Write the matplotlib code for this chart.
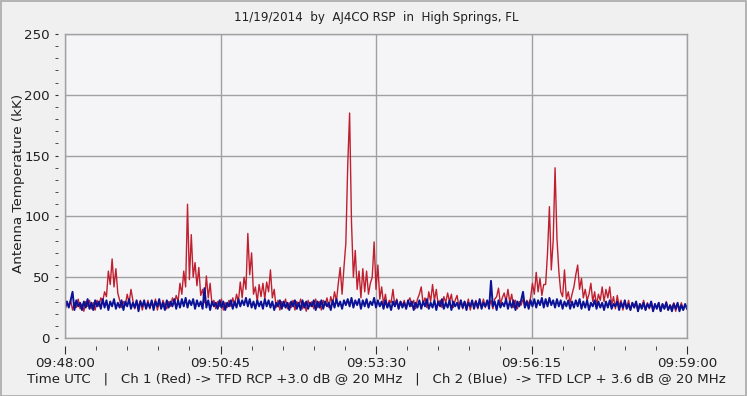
import numpy as np
import matplotlib.pyplot as plt
from matplotlib.patches import Rectangle

# seconds after 09:48:00 UTC, one sample every 2 s
t_sec = np.arange(0, 661, 2)

# Ch 1 (Red) antenna temperature, kK
ch1_red = [
    24, 30, 26, 31, 23, 29, 25, 32, 24, 28, 22, 30, 26, 31, 24,
    29, 23, 31, 26, 33, 30, 38, 34, 55, 44, 65, 42, 57, 37, 31,
    25, 30, 27, 36, 29, 40, 31, 24, 30, 26, 31, 23, 29, 25, 31,
    24, 30, 26, 32, 23, 29, 25, 31, 27, 24, 30, 26, 33, 28, 35,
    30, 45, 36, 55, 42, 110, 48, 85, 50, 62, 43, 58, 35, 40, 29,
    51, 33, 45, 27, 31, 24, 30, 26, 32, 23, 29, 25, 31, 26, 33,
    27, 36, 30, 46, 33, 50, 40, 86, 52, 70, 36, 42, 30, 44, 34,
    45, 32, 46, 38, 56, 33, 40, 25, 31, 23, 30, 26, 32, 24, 29,
    25, 31, 23, 30, 26, 32, 24, 29, 22, 31, 26, 30, 24, 32, 25,
    30, 23, 31, 27, 33, 25, 34, 28, 38, 30, 45, 58, 36, 58, 78,
    142, 185, 95, 50, 72, 40, 55, 33, 57, 38, 55, 36, 45, 50, 79,
    40, 60, 32, 42, 28, 36, 25, 31, 29, 40, 26, 32, 24, 30, 27,
    31, 24, 30, 33, 26, 31, 24, 32, 36, 42, 28, 33, 25, 38, 30,
    44, 31, 40, 27, 31, 25, 34, 29, 37, 30, 36, 25, 31, 35, 26,
    31, 24, 30, 26, 32, 23, 29, 27, 31, 24, 30, 26, 32, 25, 30,
    26, 31, 24, 32, 34, 41, 28, 33, 37, 30, 40, 29, 36, 25, 31,
    24, 30, 27, 32, 25, 31, 28, 33, 45, 36, 54, 38, 49, 35, 44,
    44, 70, 108, 56, 80, 140, 82, 55, 38, 34, 56, 32, 38, 29, 36,
    42, 52, 60, 40, 49, 33, 40, 31, 36, 45, 30, 38, 27, 36, 31,
    42, 30, 40, 33, 42, 27, 34, 24, 35, 26, 31, 23, 30, 25, 31,
    23, 29, 25, 30, 22, 28, 26, 31, 23, 29, 24, 30, 22, 28, 25,
    29, 22, 28, 24, 30, 23, 27, 25, 29, 22, 28, 24, 29, 23, 27,
    25,
]

# Ch 2 (Blue) antenna temperature, kK
ch2_blue = [
    24, 30, 25, 31, 38, 23, 31, 26, 29, 23, 30, 25, 32, 24, 29,
    23, 31, 26, 30, 24, 32, 25, 31, 23, 30, 26, 32, 24, 29, 25,
    31, 23, 30, 26, 32, 24, 29, 25, 31, 22, 30, 26, 31, 24, 29,
    25, 31, 23, 30, 26, 32, 24, 29, 23, 31, 25, 30, 26, 32, 24,
    31, 25, 32, 26, 33, 25, 31, 27, 32, 24, 31, 26, 30, 24, 41,
    25, 31, 23, 30, 26, 29, 24, 31, 25, 30, 23, 29, 26, 31, 24,
    30, 25, 32, 26, 31, 27, 33, 26, 32, 25, 30, 24, 31, 26, 30,
    24, 32, 26, 31, 25, 30, 23, 29, 26, 31, 24, 30, 25, 29, 23,
    30, 26, 31, 24, 29, 23, 31, 25, 30, 24, 29, 26, 31, 23, 30,
    25, 31, 24, 30, 26, 29, 23, 31, 25, 32, 26, 30, 24, 31, 27,
    32, 26, 33, 25, 31, 27, 32, 24, 31, 26, 32, 25, 30, 27, 33,
    25, 31, 26, 30, 24, 31, 25, 29, 23, 30, 26, 31, 24, 30, 25,
    29, 24, 31, 26, 30, 23, 29, 25, 31, 24, 30, 26, 32, 24, 29,
    25, 31, 23, 30, 26, 32, 24, 29, 25, 31, 23, 30, 26, 29, 24,
    31, 25, 30, 23, 29, 26, 31, 24, 30, 25, 32, 24, 29, 26, 31,
    24, 47, 26, 30, 23, 31, 25, 29, 26, 32, 24, 30, 25, 31, 23,
    30, 26, 31, 38, 25, 30, 24, 31, 26, 32, 25, 31, 27, 33, 25,
    32, 26, 33, 27, 31, 25, 32, 26, 31, 24, 30, 26, 31, 24, 30,
    25, 31, 26, 32, 24, 30, 25, 31, 23, 29, 26, 31, 24, 30, 25,
    29, 23, 30, 25, 31, 24, 28, 26, 30, 23, 29, 25, 31, 24, 28,
    23, 29, 25, 30, 22, 28, 24, 29, 23, 28, 25, 30, 22, 28, 24,
    29, 22, 28, 24, 29, 23, 27, 22, 28, 24, 29, 22, 27, 23, 28,
    24,
]

tick_sec = [0, 165, 330, 495, 660]
tick_labels = ["09:48:00", "09:50:45", "09:53:30", "09:56:15", "09:59:00"]

W, H = 747, 396
fig = plt.figure(figsize=(W / 100, H / 100), dpi=100, facecolor="#f0f0f0")
ax = fig.add_axes([65 / W, 58 / H, 622 / W, 304 / H])
ax.set_facecolor("#f5f5f8")

ax.plot(t_sec, ch1_red, color="#bf1f2e", lw=1.0)
ax.plot(t_sec, ch2_blue, color="#0b1296", lw=1.4)

ax.set_xlim(0, 660)
ax.set_ylim(0, 250)
ax.set_xticks(tick_sec)
ax.set_xticklabels(tick_labels)
ax.set_xticks(np.arange(0, 661, 33), minor=True)
ax.set_yticks(np.arange(0, 251, 50))
ax.set_yticks(np.arange(0, 251, 10), minor=True)

ax.set_axisbelow(True)
ax.grid(True, which="major", color="#a0a0a0", lw=1)

# ticks sit a few pixels away from the frame, like the original
ax.spines["left"].set_position(("outward", 5))
ax.spines["bottom"].set_position(("outward", 6))
ax.spines["left"].set_visible(False)
ax.spines["bottom"].set_visible(False)
for s in ["top", "right"]:
    ax.spines[s].set_color("#a0a0a0")
    ax.spines[s].set_linewidth(1)
ax.axvline(0, color="#a0a0a0", lw=1, clip_on=False)
ax.axhline(0, color="#a0a0a0", lw=1, clip_on=False)

ax.tick_params(axis="x", which="major", length=6, color="#303030",
               labelsize=9.6, pad=1.5, labelcolor="#202020")
ax.tick_params(axis="x", which="minor", length=3, color="#303030")
ax.tick_params(axis="y", which="both", length=2, color="#303030",
               labelsize=9.6, pad=4, labelcolor="#202020")

fig.text(376 / W, 1 - 18 / H, "11/19/2014  by  AJ4CO RSP  in  High Springs, FL",
         ha="center", va="center", fontsize=8.6, color="#202020")
fig.text(19 / W, 1 - 183 / H, "Antenna Temperature (kK)", rotation=90,
         ha="center", va="center", fontsize=9.7, color="#202020")
fig.text(376.5 / W, 1 - 379 / H,
         "Time UTC   |   Ch 1 (Red) -> TFD RCP +3.0 dB @ 20 MHz   |   "
         "Ch 2 (Blue)  -> TFD LCP + 3.6 dB @ 20 MHz",
         ha="center", va="center", fontsize=9.6, color="#202020")

fig.patches.append(Rectangle((0.5 / W, 0.5 / H), 1 - 1.5 / W, 1 - 1.5 / H,
                             transform=fig.transFigure, fill=False,
                             edgecolor="#a8a8a8", lw=1.2))

plt.savefig("out.png", dpi=100, facecolor=fig.get_facecolor())
